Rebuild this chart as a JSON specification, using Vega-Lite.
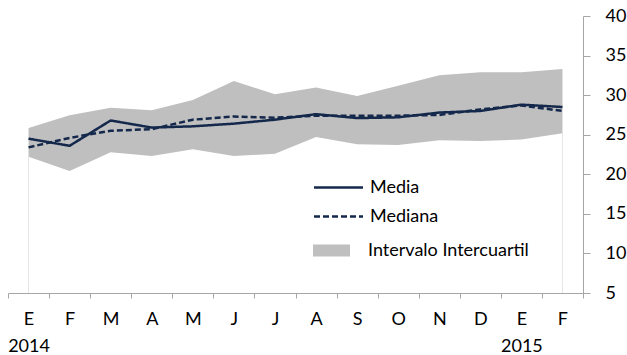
{
  "$schema": "https://vega.github.io/schema/vega-lite/v6.json",
  "width": 575,
  "height": 277,
  "autosize": {"type": "none"},
  "padding": {"left": 8, "top": 16, "right": 44, "bottom": 62},
  "background": "white",
  "config": {
    "view": {"stroke": null},
    "font": "Lato",
    "axis": {
      "domainColor": "#a6a6a6",
      "tickColor": "#a6a6a6",
      "labelColor": "#000000",
      "labelFont": "Lato",
      "labelFontSize": 18,
      "labelOverlap": false,
      "labelFlush": false,
      "grid": false,
      "title": null
    },
    "legend": {
      "labelFont": "Lato",
      "labelFontSize": 18,
      "labelColor": "#000000",
      "labelLimit": 400
    }
  },
  "data": {
    "values": [
      {"idx": 0, "Media": 24.5, "Mediana": 23.4, "q1": 22.2, "q3": 25.85},
      {"idx": 1, "Media": 23.6, "Mediana": 24.6, "q1": 20.4, "q3": 27.45},
      {"idx": 2, "Media": 26.8, "Mediana": 25.5, "q1": 22.8, "q3": 28.4},
      {"idx": 3, "Media": 25.9, "Mediana": 25.7, "q1": 22.3, "q3": 28.1},
      {"idx": 4, "Media": 26.06, "Mediana": 26.9, "q1": 23.15, "q3": 29.4},
      {"idx": 5, "Media": 26.4, "Mediana": 27.3, "q1": 22.3, "q3": 31.8},
      {"idx": 6, "Media": 26.9, "Mediana": 27.15, "q1": 22.6, "q3": 30.1},
      {"idx": 7, "Media": 27.6, "Mediana": 27.4, "q1": 24.7, "q3": 30.95},
      {"idx": 8, "Media": 27.1, "Mediana": 27.4, "q1": 23.8, "q3": 29.9},
      {"idx": 9, "Media": 27.2, "Mediana": 27.4, "q1": 23.7, "q3": 31.2},
      {"idx": 10, "Media": 27.8, "Mediana": 27.5, "q1": 24.3, "q3": 32.5},
      {"idx": 11, "Media": 28.0, "Mediana": 28.2, "q1": 24.2, "q3": 32.9},
      {"idx": 12, "Media": 28.8, "Mediana": 28.7, "q1": 24.4, "q3": 32.9},
      {"idx": 13, "Media": 28.5, "Mediana": 28.0, "q1": 25.2, "q3": 33.3}
    ]
  },
  "encoding": {
    "x": {
      "field": "idx",
      "type": "ordinal",
      "bandPosition": 0.5,
      "scale": {"type": "band", "paddingInner": 0, "paddingOuter": 0},
      "axis": {
        "orient": "bottom",
        "tickBand": "extent",
        "tickSize": 5,
        "labelPadding": 12,
        "labelAngle": 0,
        "labelAlign": "center",
        "labelBaseline": "top",
        "labelLineHeight": 27,
        "labelOverlap": false,
        "labelExpr": "datum.value == 0 ? ['E', '2014'] : datum.value == 12 ? ['E', '2015'] : split('E F M A M J J A S O N D E F', ' ')[datum.value]"
      }
    }
  },
  "layer": [
    {
      "mark": {"type": "area", "opacity": 1},
      "encoding": {
        "y": {
          "field": "q3",
          "type": "quantitative",
          "scale": {"domain": [5, 40], "nice": false, "zero": false},
          "axis": {
            "orient": "right",
            "values": [5, 10, 15, 20, 25, 30, 35, 40],
            "tickCount": 10,
            "tickSize": 7,
            "labelPadding": 15,
            "labelAlign": "left",
            "labelBaseline": "middle",
            "labelOverlap": false,
            "labelFlush": false,
            "labelBound": false
          }
        },
        "y2": {"field": "q1"},
        "fill": {
          "datum": "Intervalo Intercuartil",
          "type": "nominal",
          "scale": {"range": ["#bfbfbf"]},
          "legend": {
            "title": null,
            "orient": "none",
            "legendX": 305,
            "legendY": 216,
            "symbolType": "M-1,-0.33H1V0.33H-1Z",
            "symbolSize": 1369,
            "symbolOpacity": 1,
            "symbolStrokeWidth": 0,
            "labelOffset": 18
          }
        }
      }
    },
    {
      "transform": [{"filter": "datum.idx == 0 || datum.idx == 13"}],
      "mark": {"type": "rule", "color": "#e4e4e4", "strokeWidth": 1},
      "encoding": {
        "y": {"field": "q1", "type": "quantitative"},
        "y2": {"datum": 5}
      }
    },
    {
      "transform": [{"fold": ["Media", "Mediana"], "as": ["serie", "valor"]}],
      "mark": {"type": "line", "strokeWidth": 2.5},
      "encoding": {
        "y": {"field": "valor", "type": "quantitative"},
        "stroke": {
          "field": "serie",
          "type": "nominal",
          "scale": {"domain": ["Media", "Mediana"], "range": ["#14284b", "#14284b"]},
          "legend": {
            "title": null,
            "orient": "none",
            "legendX": 317,
            "legendY": 158,
            "symbolType": "M-2,0H2",
            "symbolSize": 600,
            "symbolStrokeWidth": 2.5,
            "labelOffset": 18,
            "rowPadding": 6
          }
        },
        "strokeDash": {
          "field": "serie",
          "type": "nominal",
          "scale": {"domain": ["Media", "Mediana"], "range": [[1, 0], [6, 3]]}
        }
      }
    }
  ]
}
